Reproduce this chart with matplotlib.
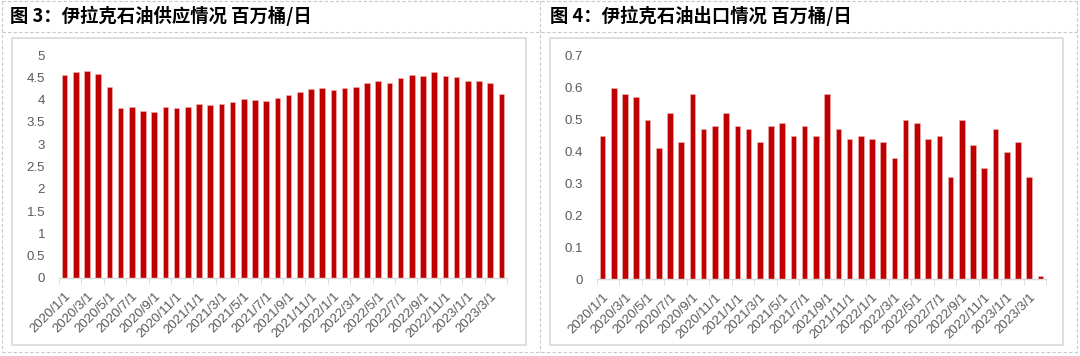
import matplotlib
matplotlib.use("Agg")
import matplotlib.pyplot as plt
from matplotlib.lines import Line2D
from matplotlib.patches import Rectangle

plt.rcParams['font.family'] = ['Noto Sans CJK SC', 'DejaVu Sans']

# 2020/1 ~ 2023/4 月度
months = [f"{y}/{m}/1" for y in range(2020, 2024) for m in range(1, 13)][:40]
supply = [4.56, 4.61, 4.65, 4.57, 4.28, 3.81, 3.84, 3.74, 3.72, 3.84,
          3.81, 3.84, 3.90, 3.87, 3.90, 3.95, 4.02, 4.00, 3.97, 4.04,
          4.10, 4.17, 4.24, 4.25, 4.22, 4.25, 4.28, 4.37, 4.42, 4.37,
          4.48, 4.55, 4.53, 4.61, 4.54, 4.51, 4.42, 4.42, 4.37, 4.12]
export = [0.45, 0.60, 0.58, 0.57, 0.50, 0.41, 0.52, 0.43, 0.58, 0.47,
          0.48, 0.52, 0.48, 0.47, 0.43, 0.48, 0.49, 0.45, 0.48, 0.45,
          0.58, 0.47, 0.44, 0.45, 0.44, 0.43, 0.38, 0.50, 0.49, 0.44,
          0.45, 0.32, 0.50, 0.42, 0.35, 0.47, 0.40, 0.43, 0.32, 0.01]

W, H = 1080, 356
fig = plt.figure(figsize=(W / 100, H / 100), dpi=100)
fig.patch.set_facecolor('white')


def px_rect(x0, y0, x1, y1):
    return [x0 / W, 1 - y1 / H, (x1 - x0) / W, (y1 - y0) / H]


# 外框虚线
dash = dict(color='#c8c8c8', lw=0.8, ls=(0, (3, 2)), transform=fig.transFigure)
for y in [1, 32, 352]:
    fig.add_artist(Line2D([2 / W, 1077 / W], [1 - y / H, 1 - y / H], **dash))
for x in [2, 540, 1077]:
    fig.add_artist(Line2D([x / W, x / W], [1 - 1 / H, 1 - 352 / H], **dash))

# 内框
for x0, x1 in [(12, 526), (550, 1063)]:
    fig.add_artist(Rectangle((x0 / W, 1 - 345 / H), (x1 - x0) / W, (345 - 38) / H,
                             transform=fig.transFigure, fill=False,
                             edgecolor='#d9d9d9', lw=1.2))

fig.text(10 / W, 1 - 16 / H, '图 3：伊拉克石油供应情况 百万桶/日', fontsize=13.2,
         fontweight='bold', va='center', ha='left', color='black')
fig.text(550 / W, 1 - 16 / H, '图 4：伊拉克石油出口情况 百万桶/日', fontsize=13.2,
         fontweight='bold', va='center', ha='left', color='black')


def draw(rect, values, ymax, step, fmt):
    ax = fig.add_axes(rect)
    x = list(range(len(values)))
    ax.bar(x, values, width=0.5, color='#C00000', edgecolor='#f2b8b8', lw=0.4)
    ax.set_xlim(-0.5, len(values) - 0.5)
    ax.set_ylim(0, ymax)
    n = int(round(ymax / step))
    yt = [i * step for i in range(n + 1)]
    ax.set_yticks(yt)
    ax.set_yticklabels([fmt(v) for v in yt], fontsize=9.5, color='#595959',
                       family=['Liberation Sans', 'DejaVu Sans'])
    ax.set_xticks(x[::2])
    ax.set_xticklabels(months[::2], rotation=45, ha='right', rotation_mode='anchor',
                       fontsize=9.5, color='#595959',
                       family=['Liberation Sans', 'DejaVu Sans'])
    ax.set_xticks([i - 0.5 for i in range(0, len(values) + 1, 2)], minor=True)
    ax.tick_params(axis='x', which='major', length=0, pad=9)
    ax.tick_params(axis='x', which='minor', length=4, color='#d9d9d9', direction='out')
    ax.tick_params(axis='y', length=0, pad=10)
    for s in ['top', 'right', 'left']:
        ax.spines[s].set_visible(False)
    ax.spines['bottom'].set_color('#d9d9d9')
    ax.spines['bottom'].set_linewidth(1.0)
    return ax


draw(px_rect(59, 55, 507, 278), supply, 5, 0.5,
     lambda v: '0' if v == 0 else ('%g' % v))
draw(px_rect(597, 56, 1046, 279), export, 0.7, 0.1,
     lambda v: '0' if v == 0 else ('%.1f' % v))

fig.savefig('out.png', dpi=100, facecolor='white')
